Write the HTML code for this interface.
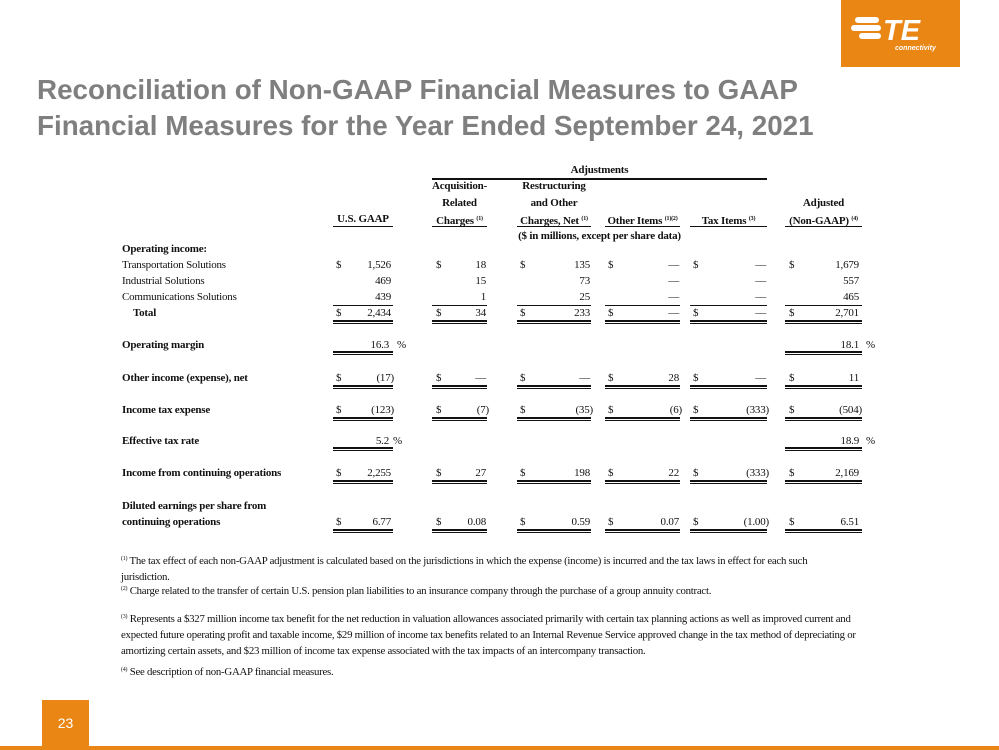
<!DOCTYPE html><html><head><style>
body{margin:0;width:999px;height:750px;position:relative;background:#fff;overflow:hidden;font-family:"Liberation Serif",serif;color:#111}
.t{position:absolute;font-size:11px;line-height:14px;white-space:nowrap;letter-spacing:-0.2px}
.b{font-weight:bold}
.r{text-align:right}
.c{text-align:center}
.l{position:absolute;background:#111;height:1px}
.fn{position:absolute;left:121px;width:750px;font-size:10.8px;line-height:16px;letter-spacing:-0.25px}
sup{font-size:6px;vertical-align:4px}
</style></head><body>
<div style="position:absolute;left:841px;top:0;width:119px;height:67px;background:#EA8614"></div>
<svg style="position:absolute;left:841px;top:0" width="119" height="67">
<g fill="#fff"><rect x="14" y="17" width="24" height="6" rx="3"/><rect x="10" y="25" width="30" height="6" rx="3"/><rect x="18" y="33" width="22" height="6" rx="3"/></g>
<text x="42" y="40" font-family="Liberation Sans" font-weight="bold" font-style="italic" font-size="29" fill="#fff">TE</text>
<text x="54" y="50" font-family="Liberation Sans" font-style="italic" font-weight="bold" font-size="7" fill="#fff">connectivity</text></svg>
<div style="position:absolute;left:37px;top:72px;font-family:'Liberation Sans',sans-serif;font-weight:bold;font-size:27.8px;line-height:36px;color:#7f7f7f;white-space:nowrap">Reconciliation of Non-GAAP Financial Measures to GAAP<br>Financial Measures for the Year Ended September 24, 2021</div>
<div style="position:absolute;left:42px;top:700px;width:47px;height:47px;background:#EA8614;color:#fff;font-family:'Liberation Sans',sans-serif;font-size:14px;text-align:center;line-height:46px">23</div>
<div style="position:absolute;left:0;top:746px;width:999px;height:4px;background:#EA8614"></div>
<div id="m"></div>
<div class="fn" style="top:551px;width:718px"><sup>(1)</sup> The tax effect of each non-GAAP adjustment is calculated based on the jurisdictions in which the expense (income) is incurred and the tax laws in effect for each such jurisdiction.</div>
<div class="fn" style="top:581px"><sup>(2)</sup> Charge related to the transfer of certain U.S. pension plan liabilities to an insurance company through the purchase of a group annuity contract.</div>
<div class="fn" style="top:609px"><sup>(3)</sup> Represents a $327 million income tax benefit for the net reduction in valuation allowances associated primarily with certain tax planning actions as well as improved current and expected future operating profit and taxable income, $29 million of income tax benefits related to an Internal Revenue Service approved change in the tax method of depreciating or amortizing certain assets, and $23 million of income tax expense associated with the tax impacts of an intercompany transaction.</div>
<div class="fn" style="top:662px"><sup>(4)</sup> See description of non-GAAP financial measures.</div>
<script>
var h='';
function T(x,y,s,cls,w){h+='<div class="t '+(cls||'')+'" style="left:'+x+'px;top:'+(y-7)+'px'+(w?';width:'+w+'px':'')+'">'+s+'</div>';}
function R(xr,y,s,cls){h+='<div class="t r '+(cls||'')+'" style="left:'+(xr-100)+'px;top:'+(y-7)+'px;width:100px">'+s+'</div>';}
function L(x1,x2,y,th){h+='<div class="l" style="left:'+x1+'px;top:'+y+'px;width:'+(x2-x1)+'px;height:'+(th||1)+'px"></div>';}
var C=[[336,391,333,393],[436,486,432,487],[520,590,517,591],[608,679,605,680],[693,766,690,767],[789,859,785,862]];
function dbl(i,y){L(C[i][2],C[i][3],y,2);L(C[i][2],C[i][3],y+3,1);}
function row(y,vals,dol,d){for(var i=0;i<6;i++){if(vals[i]==null)continue;if(dol)T(C[i][0],y,'$');R(C[i][1]+(vals[i].slice(-1)==')'?3:0),y,vals[i]);if(d)dbl(i,y+7);}}
T(432,170,'Adjustments','b c',335);L(432,767,178,2);
T(432,186,'Acquisition-','b c',55);T(517,186,'Restructuring','b c',74);
T(432,203,'Related','b c',55);T(517,203,'and Other','b c',74);T(785,203,'Adjusted','b c',77);
var hd=['U.S. GAAP','Charges <sup>(1)</sup>','Charges, Net <sup>(1)</sup>','Other Items <sup>(1)(2)</sup>','Tax Items <sup>(3)</sup>','(Non-GAAP) <sup>(4)</sup>'];
for(var i=0;i<6;i++){T(C[i][2],219,hd[i],'b c',C[i][3]-C[i][2]);L(C[i][2],C[i][3],226,1);}
T(432,236,'($ in millions, except per share data)','b c',335);
T(122,249,'Operating income:','b');
T(122,265,'Transportation Solutions');row(265,['1,526','18','135','—','—','1,679'],1);
T(122,281,'Industrial Solutions');row(281,['469','15','73','—','—','557']);
T(122,297,'Communications Solutions');row(297,['439','1','25','—','—','465']);
for(var i=0;i<6;i++)L(C[i][2],C[i][3],305,1);
T(133,313,'Total','b');row(313,['2,434','34','233','—','—','2,701'],1,1);
T(122,345,'Operating margin','b');R(389,345,'16.3');T(397,345,'%');R(859,345,'18.1');T(866,345,'%');dbl(0,351);dbl(5,351);
T(122,378,'Other income (expense), net','b');row(378,['(17)','—','—','28','—','11'],1,1);
T(122,410,'Income tax expense','b');row(410,['(123)','(7)','(35)','(6)','(333)','(504)'],1,1);
T(122,441,'Effective tax rate','b');R(389,441,'5.2');T(393,441,'%');R(859,441,'18.9');T(866,441,'%');dbl(0,447);dbl(5,447);
T(122,473,'Income from continuing operations','b');row(473,['2,255','27','198','22','(333)','2,169'],1,1);
T(122,506,'Diluted earnings per share from','b');T(122,522,'continuing operations','b');row(522,['6.77','0.08','0.59','0.07','(1.00)','6.51'],1,1);
document.getElementById('m').innerHTML=h;
</script>
</body></html>
